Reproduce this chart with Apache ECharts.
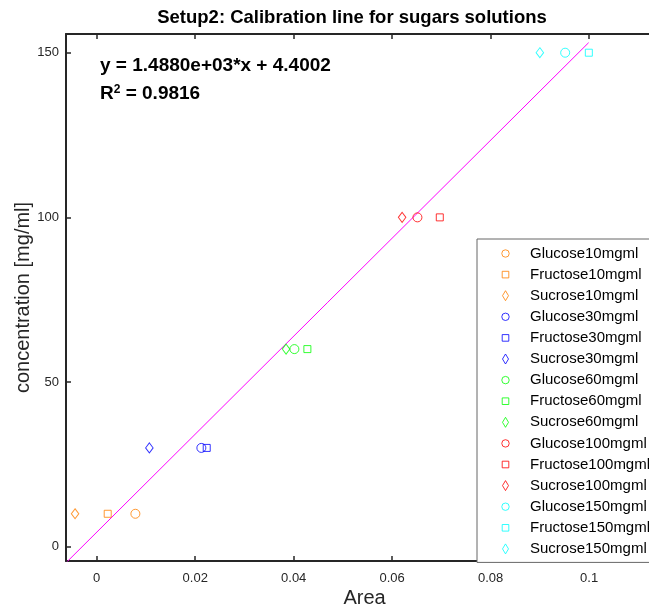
<!DOCTYPE html>
<html>
<head>
<meta charset="utf-8">
<script src="https://cdn.jsdelivr.net/npm/echarts@6/dist/echarts.min.js"></script>
<style>
html,body{margin:0;padding:0;background:#fff;}
#chart{width:649px;height:609px;}
</style>
</head>
<body>
<div id="chart"></div>
<script>
// ---- data ----
const seriesNames = [
  'Glucose10mgml','Fructose10mgml','Sucrose10mgml',
  'Glucose30mgml','Fructose30mgml','Sucrose30mgml',
  'Glucose60mgml','Fructose60mgml','Sucrose60mgml',
  'Glucose100mgml','Fructose100mgml','Sucrose100mgml',
  'Glucose150mgml','Fructose150mgml','Sucrose150mgml'
];
const areaValues = [
  0.00785, 0.00223, -0.0044,
  0.02125, 0.02234, 0.01069,
  0.04014, 0.04278, 0.03845,
  0.06513, 0.06967, 0.06202,
  0.09513, 0.09994, 0.08999
];
const concValues = [10,10,10, 30,30,30, 60,60,60, 100,100,100, 150,150,150];
const xTicks = [0, 0.02, 0.04, 0.06, 0.08, 0.1];
const yTicks = [0, 50, 100, 150];
const fitSlope = 1.4880e+03;
const fitIntercept = 4.4002;
const fitRange = [-0.0065, 0.0999];
const titleText = 'Setup2: Calibration line for sugars solutions';
const eqText = 'y = 1.4880e+03*x + 4.4002';
const r2Value = '0.9816';

// ---- styles ----
const groupColors = ['#FF8000','#0000FF','#00FF00','#FF0000','#00FFFF'];
const symbols = ['circle','rect','diamond'];
const symbolSizes = [9, 7, [7.5,10]];
const legendIcons = [
  'path://M0,0M10,10M5,1.3A3.7,3.7,0,1,1,4.99,1.3Z',
  'path://M0,0M10,10M1.7,1.7L8.3,1.7L8.3,8.3L1.7,8.3Z',
  'path://M0,0M10,10M5,0L8,5L5,10L2,5Z'
];
const X_MIN = -0.00624, X_MAX = 0.115;
const Y_MIN = -4.34, Y_MAX = 155.68;
const FONT = '"Liberation Sans", Arial, Helvetica, sans-serif';

const series = seriesNames.map((name, i) => {
  const g = Math.floor(i / 3), s = i % 3;
  return {
    name: name,
    type: 'scatter',
    symbol: symbols[s],
    symbolSize: symbolSizes[s],
    itemStyle: { color: 'transparent', borderColor: groupColors[g], borderWidth: 1 },
    data: [[areaValues[i], concValues[i]]],
    z: 3
  };
});
series.unshift({
  name: 'fit',
  type: 'line',
  symbol: 'none',
  silent: true,
  lineStyle: { color: '#FF00FF', width: 1 },
  data: fitRange.map(x => [x, fitSlope * x + fitIntercept]),
  z: 2
});

const chart = echarts.init(document.getElementById('chart'), null, { renderer: 'canvas' });
chart.setOption({
  animation: false,
  backgroundColor: '#fff',
  textStyle: { fontFamily: FONT },
  grid: { left: 66, top: 34, width: 597, height: 527, containLabel: false, outerBoundsMode: 'none' },
  xAxis: [{
    type: 'value', min: X_MIN, max: X_MAX, position: 'bottom',
    name: 'Area', nameLocation: 'middle', nameGap: 27, nameMoveOverlap: false,
    nameTextStyle: { fontSize: 20, color: '#262626', fontFamily: FONT },
    axisLine: { onZero: false, lineStyle: { color: '#262626', width: 2 } },
    axisTick: { inside: true, length: 5, customValues: xTicks, lineStyle: { color: '#262626', width: 1.5 } },
    axisLabel: { customValues: xTicks, margin: 11, fontSize: 13, color: '#262626', fontFamily: FONT, formatter: v => String(v) },
    splitLine: { show: false }
  }, {
    type: 'value', min: X_MIN, max: X_MAX, position: 'top',
    axisLine: { onZero: false, lineStyle: { color: '#262626', width: 2 } },
    axisTick: { inside: true, length: 5, customValues: xTicks, lineStyle: { color: '#262626', width: 1.5 } },
    axisLabel: { show: false },
    splitLine: { show: false }
  }],
  yAxis: [{
    type: 'value', min: Y_MIN, max: Y_MAX, position: 'left',
    name: 'concentration [mg/ml]', nameLocation: 'middle', nameGap: 33, nameMoveOverlap: false,
    nameTextStyle: { fontSize: 20, color: '#262626', fontFamily: FONT },
    axisLine: { onZero: false, lineStyle: { color: '#262626', width: 2 } },
    axisTick: { inside: true, length: 5, customValues: yTicks, lineStyle: { color: '#262626', width: 1.5 } },
    axisLabel: { customValues: yTicks, margin: 7, fontSize: 13, color: '#262626', fontFamily: FONT },
    splitLine: { show: false }
  }],
  legend: {
    orient: 'vertical',
    left: 477, top: 239,
    padding: [7, 200, 6, 23],
    itemWidth: 25, itemHeight: 10, itemGap: 6.1,
    backgroundColor: '#fff',
    borderColor: '#666', borderWidth: 1,
    textStyle: { fontSize: 15, lineHeight: 15, color: '#000', fontFamily: FONT, padding: [0, 0, 0, 7] },
    itemStyle: { borderWidth: 1 },
    selectedMode: false,
    data: seriesNames.map((n, i) => ({ name: n, icon: legendIcons[i % 3] }))
  },
  graphic: [{
    type: 'text', x: 352, y: 18, silent: true,
    style: { text: titleText, font: 'bold 18.5px ' + FONT, fill: '#000', align: 'center', verticalAlign: 'middle' }
  }, {
    type: 'text', x: 100, y: 66, silent: true,
    style: { text: eqText, font: 'bold 19px ' + FONT, fill: '#000', align: 'left', verticalAlign: 'middle' }
  }, {
    type: 'text', x: 100, y: 94, silent: true,
    style: {
      text: '{a|R}{b|2}{a| = ' + r2Value + '}',
      align: 'left', verticalAlign: 'middle',
      rich: {
        a: { font: 'bold 19px ' + FONT, fill: '#000', lineHeight: 21 },
        b: { font: 'bold 12px ' + FONT, fill: '#000', verticalAlign: 'top', lineHeight: 21 }
      }
    }
  }],
  series: series
});
</script>
</body>
</html>
